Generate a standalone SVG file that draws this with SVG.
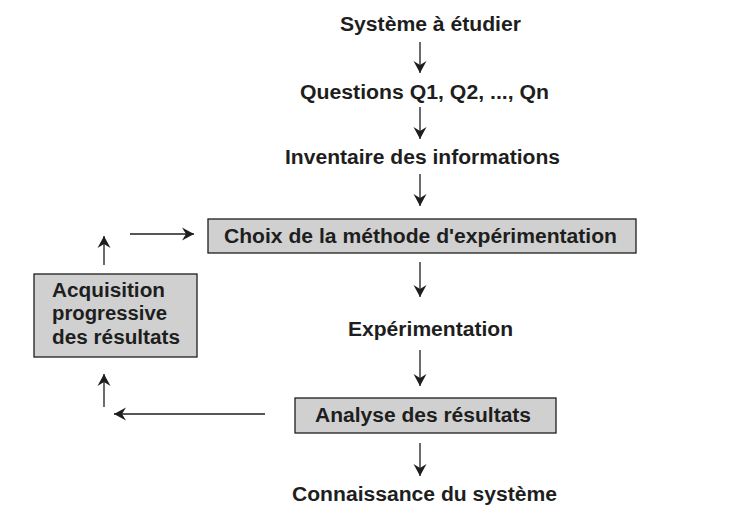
<svg xmlns="http://www.w3.org/2000/svg" width="748" height="515" viewBox="0 0 748 515">
<style>
.t{font-family:"Liberation Sans",Arial,sans-serif;font-weight:bold;font-size:20px;fill:#1e1e1e}
.box{fill:#d0d0d0;stroke:#1e1e1e;stroke-width:1.3}
.ln{stroke:#1e1e1e;stroke-width:1.3;fill:none;marker-end:url(#ah)}
</style>
<defs>
<marker id="ah" viewBox="-13 -7 14 14" markerWidth="14" markerHeight="14" refX="0" refY="0" orient="auto" markerUnits="userSpaceOnUse">
<path d="M0,0 L-12,-6.5 L-8,0 L-12,6.5 Z" fill="#1e1e1e"/>
</marker>
</defs>
<rect width="748" height="515" fill="#ffffff"/>
<g id="n1"><text class="t" x="340" y="31" textLength="181" lengthAdjust="spacingAndGlyphs">Système à étudier</text></g>
<g id="n2"><text class="t" x="300" y="99" textLength="249" lengthAdjust="spacingAndGlyphs">Questions Q1, Q2, ..., Qn</text></g>
<g id="n3"><text class="t" x="285" y="164" textLength="275" lengthAdjust="spacingAndGlyphs">Inventaire des informations</text></g>
<g id="n4"><rect class="box" x="208" y="219" width="428" height="34"/><text class="t" x="224" y="243" textLength="393" lengthAdjust="spacingAndGlyphs">Choix de la méthode d'expérimentation</text></g>
<g id="n5"><text class="t" x="348" y="336" textLength="165" lengthAdjust="spacingAndGlyphs">Expérimentation</text></g>
<g id="n6"><rect class="box" x="295" y="398" width="261" height="35"/><text class="t" x="315" y="422" textLength="216" lengthAdjust="spacingAndGlyphs">Analyse des résultats</text></g>
<g id="n7"><text class="t" x="292" y="501" textLength="265" lengthAdjust="spacingAndGlyphs">Connaissance du système</text></g>
<g id="n8"><rect class="box" x="34" y="274" width="163" height="83"/><text class="t" x="52" y="297" textLength="113" lengthAdjust="spacingAndGlyphs">Acquisition</text><text class="t" x="52" y="320" textLength="115" lengthAdjust="spacingAndGlyphs">progressive</text><text class="t" x="52" y="344" textLength="128" lengthAdjust="spacingAndGlyphs">des résultats</text></g>
<g id="connectors">
<line class="ln" x1="420" y1="42" x2="420" y2="73"/>
<line class="ln" x1="420" y1="107" x2="420" y2="139"/>
<line class="ln" x1="420" y1="174" x2="420" y2="206"/>
<line class="ln" x1="420" y1="262" x2="420" y2="297"/>
<line class="ln" x1="420" y1="350" x2="420" y2="386"/>
<line class="ln" x1="420" y1="443" x2="420" y2="476"/>
<line class="ln" x1="104" y1="265" x2="104" y2="236"/>
<line class="ln" x1="130" y1="234" x2="194" y2="234"/>
<line class="ln" x1="104" y1="407" x2="104" y2="374"/>
<line class="ln" x1="265" y1="414" x2="114" y2="414"/>
</g>
</svg>
